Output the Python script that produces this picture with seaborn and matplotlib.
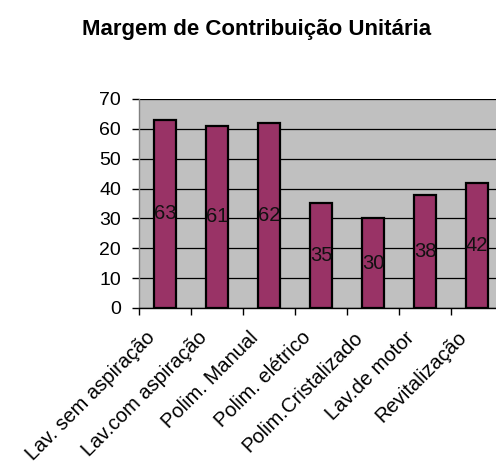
import matplotlib
matplotlib.use("Agg")
import matplotlib.pyplot as plt
import matplotlib.transforms as mtransforms
import seaborn as sns
import pandas as pd

categories = ["Lav. sem aspiração", "Lav.com aspiração", "Polim. Manual",
              "Polim. elétrico", "Polim.Cristalizado", "Lav.de motor", "Revitalização"]
values = [63, 61, 62, 35, 30, 38, 42]
yticks = [0, 10, 20, 30, 40, 50, 60, 70]
title = "Margem de Contribuição Unitária"

sns.set_style("white")
plt.rcParams['font.family'] = ['Liberation Sans', 'DejaVu Sans']
plt.rcParams['text.color'] = 'black'
plt.rcParams['xtick.color'] = 'black'
plt.rcParams['ytick.color'] = 'black'
plt.rcParams['xtick.labelcolor'] = 'black'
plt.rcParams['ytick.labelcolor'] = 'black'

df = pd.DataFrame({"cat": categories, "val": values})

fig = plt.figure(figsize=(4.96, 4.76), dpi=100)
ax = fig.add_axes([139/496, 168/476, 364/496, 209/476])
ax.set_facecolor("#C0C0C0")

sns.barplot(data=df, x="cat", y="val", ax=ax, color="#993366", width=0.43,
            edgecolor="black", linewidth=1.6, saturation=1)
for p in ax.patches:
    p.set_zorder(3)

ax.set_ylim(0, 70)
ax.set_xlim(-0.5, len(categories) - 0.5)
ax.set_yticks(yticks)
ax.grid(axis="y", color="black", linewidth=0.9, zorder=1)
ax.set_axisbelow(True)
ax.set_xlabel("")
ax.set_ylabel("")

for side in ["top", "right"]:
    ax.spines[side].set_visible(False)
ax.spines["left"].set_color("#808080")
ax.spines["left"].set_linewidth(1.0)
ax.spines["bottom"].set_color("black")
ax.spines["bottom"].set_linewidth(1.0)

ax.tick_params(axis="y", length=5, width=1, color="black", pad=8, labelsize=14,
               labelcolor="black", direction="out", left=True)
ax.set_yticklabels([str(v) for v in yticks])

# x ticks at category boundaries
ax.set_xticks([i - 0.5 for i in range(len(categories) + 1)], minor=True)
ax.tick_params(axis="x", which="minor", length=5, width=1, color="black", direction="out", bottom=True)
ax.tick_params(axis="x", which="major", length=0, labelcolor="black")
ax.set_xticks(range(len(categories)))
ax.set_xticklabels(categories, rotation=45, ha="right", va="top",
                   rotation_mode="anchor", fontsize=14.5, color="black")
offset = mtransforms.ScaledTranslation(-20/100, -15/100, fig.dpi_scale_trans)
for lbl in ax.get_xticklabels():
    lbl.set_transform(lbl.get_transform() + offset)

ax.bar_label(ax.containers[0], labels=[str(v) for v in values], label_type="center",
             fontsize=14.5, color="#111111", zorder=5)

fig.text(257/496, 1 - 30/476, title, ha="center", va="center",
         fontsize=16, fontweight="bold", color="black")

fig.savefig("out.png", dpi=100, facecolor="white")
